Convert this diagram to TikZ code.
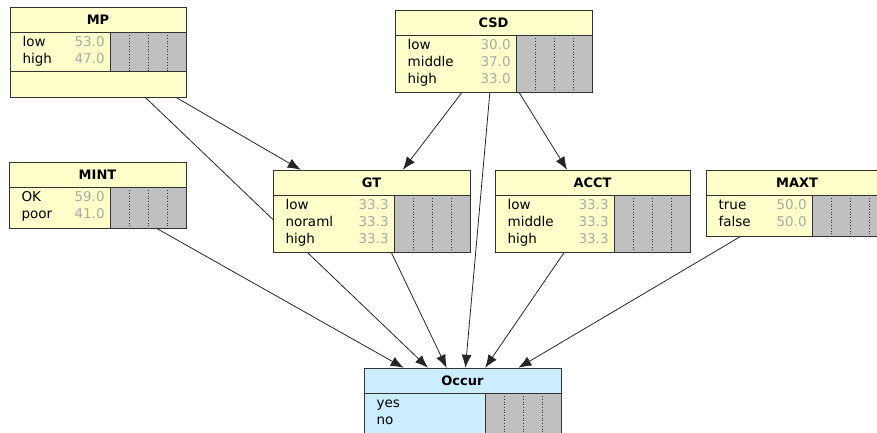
\documentclass[tikz,border=0pt]{standalone}
\usepackage{fontspec}
\setmainfont{DejaVu Sans}
\usetikzlibrary{arrows.meta,backgrounds,calc}
\definecolor{nodeyel}{RGB}{255,255,204}
\definecolor{nodeblu}{RGB}{204,236,255}
\definecolor{bargrey}{RGB}{192,192,192}
\definecolor{valgrey}{RGB}{170,170,170}
\definecolor{linegrey}{RGB}{51,51,51}
\newcommand{\pv}[1]{\textcolor{valgrey}{#1}}
\tikzset{
	netbox/.style={draw=linegrey, fill=nodeyel, inner sep=0},
	ttl/.style={draw=linegrey, fill=nodeyel, anchor=north, minimum height=25, inner sep=0, font=\bfseries\fontsize{13}{15}\selectfont},
	bar/.style={draw=linegrey, fill=bargrey, anchor=north east, minimum width=76, inner sep=0,
		path picture={\foreach \f in {0.25,0.5,0.75} \draw[linegrey, dotted, line width=0.7pt] ($(path picture bounding box.north west)!\f!(path picture bounding box.north east)$) -- ($(path picture bounding box.south west)!\f!(path picture bounding box.south east)$);}},
	states/.style={anchor=north east, inner sep=0, align=left, text width=#1, font=\fontsize{13.5}{17}\selectfont},
	link/.style={draw=black!85, line width=0.8pt, -{Latex[length=13pt,width=10pt]}}
}

\begin{document}
\begin{tikzpicture}[x=1pt, y=-1pt]
	\useasboundingbox (0,0) rectangle (877,432);
	\clip (0,0) rectangle (877,432);

	\node[netbox, minimum width=176, minimum height=90] (MP) at (98,52) {};
	\node[ttl, minimum width=176] (MPt) at (MP.north) {MP};
	\node[bar, minimum height=39] (MPb) at (MPt.south east) {};
	\node[states=82] (MPs) at ($(MPb.north west)+(-5,4)$) {low\hfill\pv{53.0}\\high\hfill\pv{47.0}};
	\draw[linegrey] (MP.west |- MPb.south) -- (MPb.south west);

	\node[netbox, minimum width=177, minimum height=66] (MINT) at (97.5,195) {};
	\node[ttl, minimum width=177] (MINTt) at (MINT.north) {MINT};
	\node[bar, minimum height=41] (MINTb) at (MINTt.south east) {};
	\node[states=83] (MINTs) at ($(MINTb.north west)+(-5,4)$) {OK\hfill\pv{59.0}\\poor\hfill\pv{41.0}};

	\node[netbox, minimum width=197, minimum height=82] (CSD) at (493.5,51) {};
	\node[ttl, minimum width=197] (CSDt) at (CSD.north) {CSD};
	\node[bar, minimum height=57] (CSDb) at (CSDt.south east) {};
	\node[states=103] (CSDs) at ($(CSDb.north west)+(-5,4)$) {low\hfill\pv{30.0}\\middle\hfill\pv{37.0}\\high\hfill\pv{33.0}};

	\node[netbox, minimum width=197, minimum height=82] (GT) at (371.5,211) {};
	\node[ttl, minimum width=197] (GTt) at (GT.north) {GT};
	\node[bar, minimum height=57] (GTb) at (GTt.south east) {};
	\node[states=103] (GTs) at ($(GTb.north west)+(-5,4)$) {low\hfill\pv{33.3}\\noraml\hfill\pv{33.3}\\high\hfill\pv{33.3}};

	\node[netbox, minimum width=195, minimum height=82] (ACCT) at (592.5,211) {};
	\node[ttl, minimum width=195] (ACCTt) at (ACCT.north) {ACCT};
	\node[bar, minimum height=57] (ACCTb) at (ACCTt.south east) {};
	\node[states=101] (ACCTs) at ($(ACCTb.north west)+(-5,4)$) {low\hfill\pv{33.3}\\middle\hfill\pv{33.3}\\high\hfill\pv{33.3}};

	\node[netbox, minimum width=182, minimum height=66] (MAXT) at (797,203) {};
	\node[ttl, minimum width=182] (MAXTt) at (MAXT.north) {MAXT};
	\node[bar, minimum height=41] (MAXTb) at (MAXTt.south east) {};
	\node[states=88] (MAXTs) at ($(MAXTb.north west)+(-5,4)$) {true\hfill\pv{50.0}\\false\hfill\pv{50.0}};

	\node[netbox, fill=nodeblu, minimum width=197, minimum height=66] (Occur) at (462.5,401) {};
	\node[ttl, fill=nodeblu, minimum width=197] (Occurt) at (Occur.north) {Occur};
	\node[bar, minimum height=41] (Occurb) at (Occurt.south east) {};
	\node[states=103] (Occurs) at ($(Occurb.north west)+(-5,4)$) {\vphantom{l}yes\\no};

	\begin{scope}[on background layer]
		\draw[link] (MP) -- (GT);
		\draw[link] (MP) -- (Occur);
		\draw[link] (CSD) -- (GT);
		\draw[link] (CSD) -- (ACCT);
		\draw[link] (CSD) -- (Occur);
		\draw[link] (MINT) -- (Occur);
		\draw[link] (GT) -- (Occur);
		\draw[link] (ACCT) -- (Occur);
		\draw[link] (MAXT) -- (Occur);
	\end{scope}
\end{tikzpicture}
\end{document}
